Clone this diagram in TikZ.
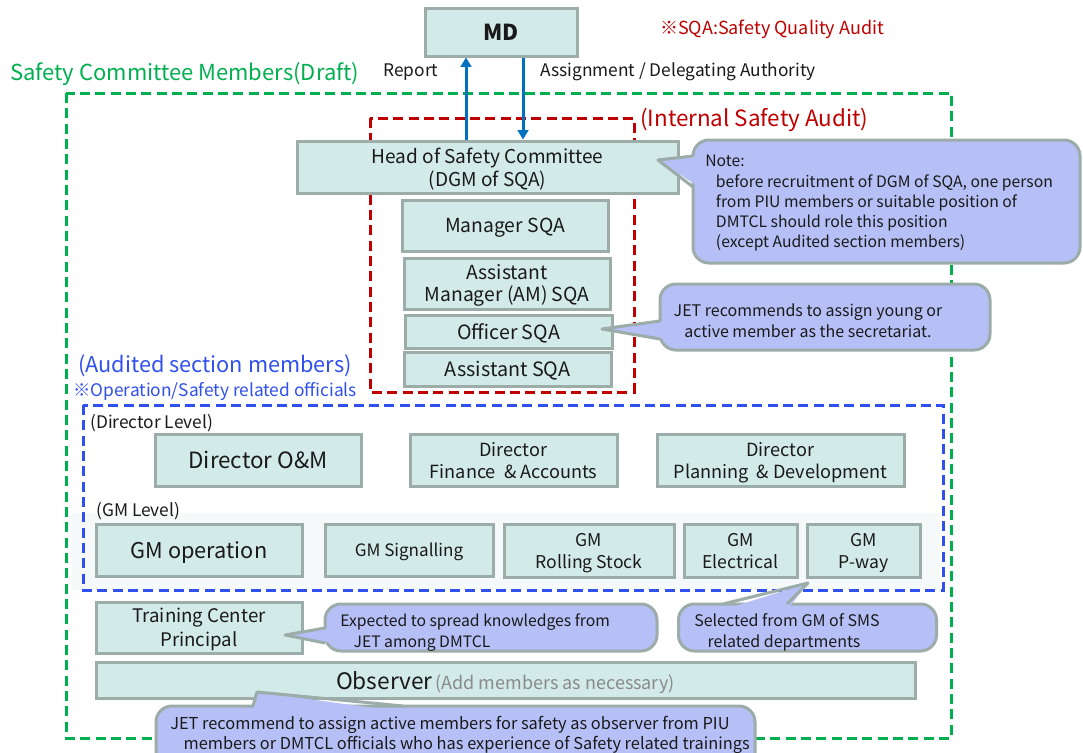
\documentclass[tikz,border=0pt]{standalone}
\usepackage{fontspec}
\setmainfont{Noto Sans CJK JP}
\usetikzlibrary{arrows.meta,calc}
\definecolor{boxfill}{HTML}{D2EAE8}
\definecolor{boxline}{HTML}{9BACA9}
\definecolor{notefill}{HTML}{B6C0F7}
\definecolor{cgreen}{HTML}{00B050}
\definecolor{cred}{HTML}{C00000}
\definecolor{cblue}{HTML}{3050F0}
\definecolor{carrow}{HTML}{0070C0}
\definecolor{ink}{HTML}{1A1A1A}
\definecolor{soft}{HTML}{8A8A8A}
\definecolor{gmband}{HTML}{F5F9F9}
\newcommand\fsz[2]{\fontsize{#1pt}{#2pt}\selectfont}

\begin{document}
\begin{tikzpicture}[x=0.75pt,y=-0.75pt,
  wh/.style 2 args={minimum width=#1*0.75pt,minimum height=#2*0.75pt},
  unit/.style={draw=boxline,fill=boxfill,line width=2.25pt,inner sep=0pt,align=center,text=ink,text depth=0pt},
  bubble/.style={draw=boxline,fill=notefill,line width=2.25pt,rounded corners=12pt,inner sep=0pt},
  pointer/.style={draw=boxline,line width=2.25pt,line join=round},
  btext/.style={inner sep=0pt,align=left,text=ink,anchor=north west},
  label/.style={inner sep=0pt,anchor=west},
  frame/.style={line width=2.25pt,dash pattern=on 7.5pt off 4pt},
  flow/.style={draw=carrow,line width=2.25pt,-{Triangle[length=7pt,width=8pt]}}
]
\path[use as bounding box] (0,0) rectangle (1083,753);
\clip (0,0) rectangle (1083,753);
\fill[white] (0,0) rectangle (1083,753);

% committee frame, audit frame, audited-section frame
\draw[frame,cgreen] (66,93) rectangle (951,738);
\fill[gmband] (72,513) rectangle (940,590);
\draw[frame,cred] (370,118) rectangle (634,392);
\draw[frame,cblue] (83,405) rectangle (943,590);

% headings
\node[label,text=cgreen,font=\fsz{16.5}{20}] (title) at (10,74) {Safety Committee Members(Draft)};
\node[label,text=cred,font=\fsz{13.5}{16}] (sqa) at (660,29) {※SQA:Safety Quality Audit};
\node[inner sep=0pt,text=ink,font=\fsz{13}{16}] (rep) at (411,72) {Report};
\node[label,text=ink,font=\fsz{13}{16}] (asg) at (540,72) {Assignment / Delegating Authority};
\node[label,text=cred,font=\fsz{16.8}{20}] (isa) at (640,120) {(Internal Safety Audit)};
\node[label,text=cblue,font=\fsz{16.3}{20}] (aud) at (78,366) {(Audited section members)};
\node[label,text=cblue,font=\fsz{13}{15}] (ops) at (73,392) {※Operation/Safety related officials};
\node[label,text=ink,font=\fsz{13}{15}] (dl) at (90,423) {(Director Level)};
\node[label,text=ink,font=\fsz{13}{15}] (gl) at (96,511) {(GM Level)};

% positions
\node[unit,wh={152}{48},font=\bfseries\fsz{16.5}{20}] (md) at (501,32) {MD};
\node[unit,wh={381}{52},font=\fsz{14.3}{17}] (head) at (487.5,167) {Head of Safety Committee\\(DGM of SQA)};
\node[unit,wh={206}{51},font=\fsz{14.5}{18}] (mgr) at (505,225.5) {Manager SQA};
\node[unit,wh={206}{51},font=\fsz{14.5}{16.5}] (am) at (507,283.5) {Assistant\\Manager (AM) SQA};
\node[unit,wh={207}{33},font=\fsz{14.7}{18}] (off) at (508.5,331.5) {Officer SQA};
\node[unit,wh={207}{34},font=\fsz{14.8}{18}] (asst) at (507.5,369) {Assistant SQA};
\node[unit,wh={206}{52},font=\fsz{16.8}{20}] (dom) at (258,460) {Director O\&M};
\node[unit,wh={207}{52},font=\fsz{13.6}{16.5}] (dfa) at (513.5,460) {Director\\Finance \ \& Accounts};
\node[unit,wh={247}{52},font=\fsz{13.6}{16.5}] (dpd) at (780.5,460) {Director\\Planning \ \& Development};
\node[unit,wh={206}{52},font=\fsz{16.3}{20}] (gop) at (199,550) {GM operation};
\node[unit,wh={168}{52},font=\fsz{12.8}{16.5}] (gsig) at (409,550) {GM Signalling};
\node[unit,wh={170}{53},font=\fsz{13.2}{16.5}] (grs) at (589,550.5) {GM\\Rolling Stock};
\node[unit,wh={113}{53},font=\fsz{13.2}{16.5}] (gel) at (740.5,550.5) {GM\\Electrical};
\node[unit,wh={113}{53},font=\fsz{13.2}{16.5}] (gpw) at (863.5,550.5) {GM\\P-way};
\node[unit,wh={206}{51},font=\fsz{14}{18}] (tcp) at (199,627.5) {Training Center\\Principal};
\node[unit,wh={819}{36}] (obs) at (505.5,680) {{\fsz{17}{20}Observer} {\color{soft}\fsz{13.5}{16}(Add members as necessary)}};

% reporting lines
\coordinate (upx) at (466,0);
\coordinate (dnx) at (523,0);
\draw[flow] (head.north -| upx) -- (md.south -| upx);
\draw[flow] (md.south -| dnx) -- (head.north -| dnx);

% note on the head position
\node[bubble,wh={387}{123}] (note) at (886.5,201.5) {};
\coordinate (noteTip) at (658,160);
\coordinate (noteB1) at (693,156);
\coordinate (noteB2) at (693,187);
\fill[notefill] (noteTip) -- ($(noteB1)+(6,0)$) -- ($(noteB2)+(6,0)$) -- cycle;
\draw[pointer] (noteB1) -- (noteTip) -- (noteB2);
\node[btext,font=\fsz{11.8}{15.2}] (notetxt) at (705,155) {Note:\\\hspace*{8pt}before recruitment of DGM of SQA, one person\\\hspace*{8pt}from PIU members or suitable position of\\\hspace*{8pt}DMTCL should role this position\\\hspace*{8pt}(except Audited section members)};

% secretariat note
\node[bubble,wh={330}{66}] (jet) at (825,317) {};
\coordinate (jetTip) at (602,329);
\coordinate (jetB1) at (660,321);
\coordinate (jetB2) at (660,339);
\fill[notefill] (jetTip) -- ($(jetB1)+(6,0)$) -- ($(jetB2)+(6,0)$) -- cycle;
\draw[pointer] (jetB1) -- (jetTip) -- (jetB2);
\node[inner sep=0pt,align=center,text=ink,font=\fsz{12}{15.75}] (jettxt) at (808,320.5) {JET recommends to assign young or\\active member as the secretariat.};

% GM selection note
\node[bubble,wh={258}{47}] (sel) at (807.5,627.5) {};
\coordinate (selTip) at (808,583);
\coordinate (selB1) at (723,604);
\coordinate (selB2) at (787,604);
\fill[notefill] (selTip) -- ($(selB1)+(0,6)$) -- ($(selB2)+(0,6)$) -- cycle;
\draw[pointer] (selB1) -- (selTip) -- (selB2);
\node[btext,font=\fsz{12}{15.75}] (seltxt) at (694,613) {Selected from GM of SMS\\\hspace*{10pt}related departments};

% training centre note
\node[bubble,wh={332}{47}] (exp) at (491,627.5) {};
\coordinate (expTip) at (285,635);
\coordinate (expB1) at (325,628);
\coordinate (expB2) at (325,643);
\fill[notefill] (expTip) -- ($(expB1)+(6,0)$) -- ($(expB2)+(6,0)$) -- cycle;
\draw[pointer] (expB1) -- (expTip) -- (expB2);
\node[btext,font=\fsz{11.8}{15.75}] (exptxt) at (340,613) {Expected to spread knowledges from\\\hspace*{10pt}JET among DMTCL};

% observer note
\node[bubble,wh={599}{64}] (obsnote) at (455.5,738) {};
\coordinate (obsTip) at (257,692);
\coordinate (obsB1) at (253,706);
\coordinate (obsB2) at (403,706);
\fill[notefill] (obsTip) -- ($(obsB1)+(0,6)$) -- ($(obsB2)+(0,6)$) -- cycle;
\draw[pointer] (obsB1) -- (obsTip) -- (obsB2);
\node[btext,font=\fsz{12.3}{14.8}] (obstxt) at (170,716) {JET recommend to assign active members for safety as observer from PIU\\\hspace*{10pt}members or DMTCL officials who has experience of Safety related trainings};
\end{tikzpicture}
\end{document}
